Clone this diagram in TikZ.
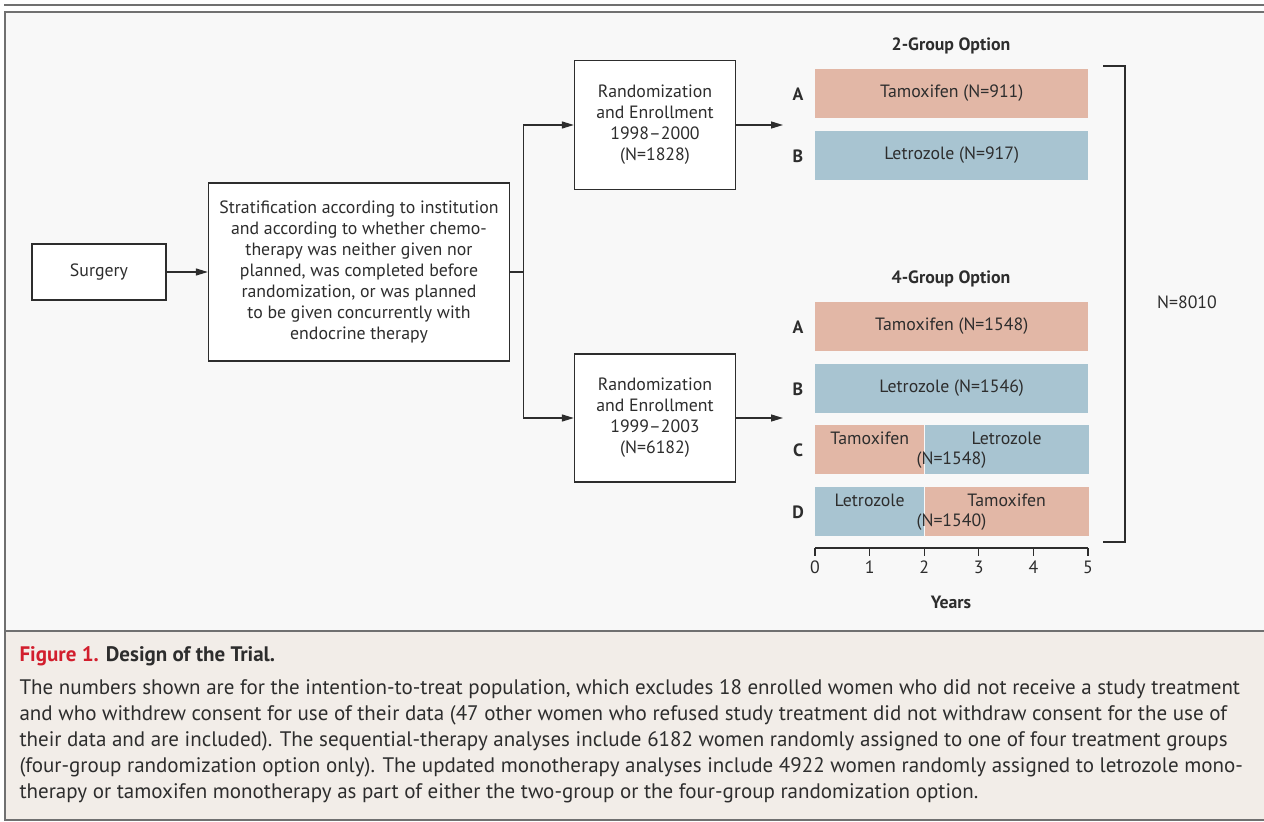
\documentclass[tikz,border=0pt]{standalone}
\usepackage{fontspec}
\setmainfont{PT Sans}
\usetikzlibrary{calc,arrows.meta}

\definecolor{tamcol}{RGB}{226,183,166}
\definecolor{letcol}{RGB}{168,196,209}
\definecolor{inkcol}{RGB}{45,45,45}
\definecolor{framecol}{RGB}{112,112,112}
\definecolor{diagbg}{RGB}{248,248,248}
\definecolor{capbg}{RGB}{242,237,232}
\definecolor{figred}{RGB}{210,30,45}

\newcommand{\diagfont}{\fontsize{17.8}{21}\selectfont}
\newcommand{\capfont}{\fontsize{21}{26}\selectfont}

\tikzset{
  box/.style={draw=inkcol, line width=1.3pt, fill=white, align=center, text=inkcol},
  tam/.style={fill=tamcol, inner sep=0pt, anchor=west, minimum height=49pt, text=inkcol},
  let/.style={fill=letcol, inner sep=0pt, anchor=west, minimum height=49pt, text=inkcol},
  grp/.style={font=\diagfont\bfseries, text=inkcol},
  conn/.style={draw=inkcol, line width=1.3pt},
  arr/.style={conn, -{Triangle[length=12pt,width=7pt]}}
}

\begin{document}
\begin{tikzpicture}[x=1pt, y=-1pt, font=\diagfont]
\useasboundingbox (0,0) rectangle (1264,822);

% background and frame
\fill[diagbg] (5,12) rectangle (1270,631);
\fill[capbg] (5,631) rectangle (1270,820);
\draw[framecol, line width=2pt] (4,5) -- (1270,5);
\draw[framecol, line width=2pt] (1270,12) -- (5,12) -- (5,820) -- (1270,820);
\draw[framecol, line width=1.5pt] (5,631) -- (1270,631);

% flow boxes
\node[box, minimum width=134pt, minimum height=56pt] (surg) at (99,272) {Surgery};
\node[box, minimum width=301pt, minimum height=178pt] (strat) at (359,272)
  {Stratification according to institution\\and according to whether chemo-\\therapy was neither given nor\\planned, was completed before\\randomization, or was planned\\to be given concurrently with\\endocrine therapy};
\node[box, minimum width=161pt, minimum height=129pt] (rand1) at (655,125)
  {Randomization\\and Enrollment\\1998--2000\\(N=1828)};
\node[box, minimum width=161pt, minimum height=128pt] (rand2) at (655,418)
  {Randomization\\and Enrollment\\1999--2003\\(N=6182)};

\coordinate (split) at ($(strat.east)+(13,0)$);
\coordinate (two) at (783,125);
\coordinate (four) at (783,418);

\draw[arr] (surg) -- (strat);
\draw[conn] (strat.east) -- (split);
\draw[arr] (split) |- (rand1.west);
\draw[arr] (split) |- (rand2.west);
\draw[arr] (rand1.east) -- (two);
\draw[arr] (rand2.east) -- (four);

% 2-group option
\node[grp] (t2) at (951,46) {2-Group Option};
\node[tam, minimum width=273pt] (g2a) at (815,93.5) {Tamoxifen (N=911)};
\node[let, minimum width=273pt] (g2b) at (815,155.5) {Letrozole (N=917)};
\node[grp] at (798,94) {A};
\node[grp] at (798,156) {B};

% 4-group option
\node[grp] (t4) at (951,279) {4-Group Option};
\node[tam, minimum width=273pt] (g4a) at (815,326.5) {Tamoxifen (N=1548)};
\node[let, minimum width=273pt] (g4b) at (815,388.5) {Letrozole (N=1546)};
\node[tam, minimum width=109pt] (g4c1) at (815,449.5) {};
\node[let, minimum width=164pt] (g4c2) at (g4c1.east) {};
\node[let, minimum width=109pt] (g4d1) at (815,511.5) {};
\node[tam, minimum width=164pt] (g4d2) at (g4d1.east) {};
\node[text=inkcol] at ($(g4c1)+(0,-11)$) {Tamoxifen};
\node[text=inkcol] at ($(g4c2)+(0,-11)$) {Letrozole};
\node[text=inkcol] at ($(g4c1.east)+(27,11)$) {(N=1548)};
\node[text=inkcol] at ($(g4d1)+(0,-11)$) {Letrozole};
\node[text=inkcol] at ($(g4d2)+(0,-11)$) {Tamoxifen};
\node[text=inkcol] at ($(g4d1.east)+(27,11)$) {(N=1540)};
\node[grp] at (798,327) {A};
\node[grp] at (798,389) {B};
\node[grp] at (798,450) {C};
\node[grp] at (798,512) {D};

% years axis
\draw[conn] (815,548) -- (1088,548);
\foreach \yr in {0,...,5}
  \draw[conn] ({815+54.6*\yr},548) -- ({815+54.6*\yr},556)
    node[below=1pt, text=inkcol] {\yr};
\node[grp] (yrs) at (951,602) {Years};

% bracket
\draw[conn] (1103,66) -- (1125,66) -- (1125,542) -- (1103,542);
\node[text=inkcol] (ntot) at (1187,302) {N=8010};

% caption
\node[anchor=west, font=\capfont\bfseries] (capt) at (16,656)
  {\textcolor{figred}{Figure 1.} \textcolor{inkcol}{Design of the Trial.}};
\node[anchor=north west, align=left, text=inkcol, font=\capfont] (capb) at (16,676)
  {The numbers shown are for the intention-to-treat population, which excludes 18 enrolled women who did not receive a study treatment\\
   and who withdrew consent for use of their data (47 other women who refused study treatment did not withdraw consent for the use of\\
   their data and are included). The sequential-therapy analyses include 6182 women randomly assigned to one of four treatment groups\\
   (four-group randomization option only). The updated monotherapy analyses include 4922 women randomly assigned to letrozole mono-\\
   therapy or tamoxifen monotherapy as part of either the two-group or the four-group randomization option.};
\end{tikzpicture}
\end{document}
